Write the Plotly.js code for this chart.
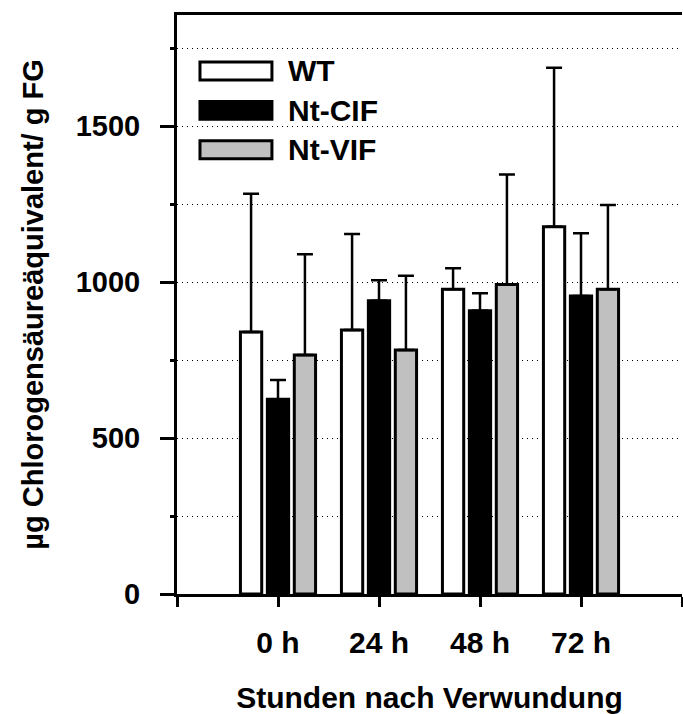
<!DOCTYPE html>
<html>
<head>
<meta charset="utf-8">
<script src="https://cdn.plot.ly/plotly-3.0.1.min.js"></script>
<style>html,body{margin:0;padding:0;background:#fff;}#chart{width:683px;height:714px;}</style>
</head>
<body>
<div id="chart"></div>
<script>
// Data
const categories = ["0 h", "24 h", "48 h", "72 h"];
const seriesNames = ["WT", "Nt-CIF", "Nt-VIF"];
const wtValues = [840, 846, 977, 1177];
const wtErrors = [443, 308, 67, 510];
const cifValues = [624, 940, 908, 955];
const cifErrors = [62, 66, 56, 201];
const vifValues = [766, 782, 992, 977];
const vifErrors = [323, 238, 353, 270];
const yTickVals = [0, 500, 1000, 1500];

const FONT = "Liberation Sans, Arial, sans-serif";
const FS = 30;
const fills = ["#ffffff", "#000000", "#c0c0c0"];
const allValues = [wtValues, cifValues, vifValues];
const allErrors = [wtErrors, cifErrors, vifErrors];
const xPos = categories.map((c, i) => i + 1);

const traces = seriesNames.map((name, k) => ({
  type: "bar",
  name: name,
  x: xPos,
  y: allValues[k],
  marker: {color: fills[k], line: {color: "#000", width: 3}},
  error_y: {type: "data", array: allErrors[k], arrayminus: allErrors[k].map(() => 0),
            symmetric: false, color: "#000", thickness: 2.5, width: 8},
  showlegend: false,
  hoverinfo: "skip"
}));

// Legend drawn as shapes + annotations (large swatches)
const shapes = [];
const annotations = [];
const legTop = 0.9188, legStep = 0.068, swH = 0.031;
seriesNames.forEach((name, k) => {
  const y1 = legTop - k * legStep;
  shapes.push({type: "rect", xref: "paper", yref: "paper", x0: 0.0455, x1: 0.188,
    y0: y1 - swH, y1: y1, fillcolor: fills[k], line: {color: "#000", width: 3}});
  annotations.push({xref: "paper", yref: "paper", x: 0.216, y: y1 - swH / 2,
    xanchor: "left", yanchor: "middle", text: "<b>" + name + "</b>", showarrow: false,
    font: {family: FONT, size: FS, color: "#000"}});
});

const gridDash = "1px,4px";

const layout = {
  width: 683, height: 714,
  margin: {l: 177, r: 1, t: 15, b: 120, pad: 0},
  paper_bgcolor: "#fff", plot_bgcolor: "#fff",
  barmode: "group", bargap: 0.2, bargroupgap: 0.21,
  font: {family: FONT, size: FS, color: "#000"},
  xaxis: {
    range: [0, categories.length + 1],
    tickmode: "array",
    tickvals: [0].concat(xPos, [categories.length + 1]),
    ticktext: [""].concat(categories.map(c => "<b>" + c + "</b>"), [""]),
    ticks: "outside", ticklen: 10, tickwidth: 3, tickcolor: "#000",
    showline: true, linewidth: 3, linecolor: "#000", mirror: true,
    showgrid: false, zeroline: false,
    ticklabelstandoff: 10,
    tickfont: {family: FONT, size: FS},
    title: {text: "<b>Stunden nach Verwundung</b>", font: {family: FONT, size: FS}, standoff: 34}
  },
  yaxis: {
    range: [0, 1856],
    tickmode: "array", tickvals: yTickVals,
    ticktext: yTickVals.map(v => "<b>" + v + "</b>"),
    ticks: "outside", ticklen: 14, tickwidth: 3, tickcolor: "#000",
    showline: true, linewidth: 3, linecolor: "#000", mirror: false,
    showgrid: true, gridcolor: "#000", gridwidth: 1, griddash: gridDash,
    zeroline: false,
    ticklabelstandoff: 14,
    tickfont: {family: FONT, size: 29},
    minor: {dtick: 250, tick0: 0, ticks: "outside", ticklen: 4, tickwidth: 3, tickcolor: "#000",
            showgrid: true, gridcolor: "#000", gridwidth: 1, griddash: gridDash},
    title: {text: "<b>µg Chlorogensäureäquivalent/ g FG</b>", font: {family: FONT, size: 29}, standoff: 24}
  },
  shapes: shapes,
  annotations: annotations
};

Plotly.newPlot("chart", traces, layout, {displayModeBar: false, staticPlot: true});
</script>
</body>
</html>
